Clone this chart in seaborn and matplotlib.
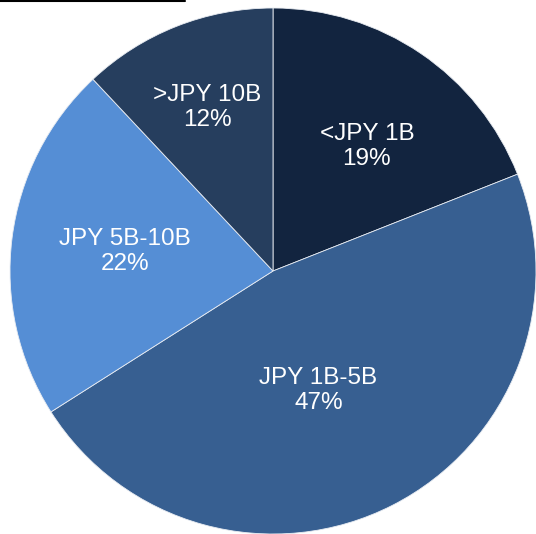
import matplotlib
matplotlib.use("Agg")
import matplotlib.pyplot as plt
import seaborn as sns
from matplotlib.lines import Line2D

# Share of deals by size bracket.
categories = ["<JPY 1B", "JPY 1B-5B", "JPY 5B-10B", ">JPY 10B"]
shares = [19, 47, 22, 12]
colors = ["#12243f", "#375f91", "#558ed5", "#263e5e"]

sns.set_theme(style="white")
plt.rcParams["font.family"] = ["Liberation Sans", "DejaVu Sans"]

fig = plt.figure(figsize=(5.36, 5.34), dpi=100)
ax = fig.add_axes([10 / 536, 0, 526 / 536, 526 / 534])

wedges, texts = ax.pie(
    shares,
    colors=colors,
    startangle=90,
    counterclock=False,
    wedgeprops={"linewidth": 0.6, "edgecolor": "#e8ecf2"},
)

# Label spots inside each wedge (in pie-radius units).
label_xy = [(0.357, 0.472), (0.173, -0.455), (-0.563, 0.073), (-0.251, 0.621)]
for name, val, (x, y) in zip(categories, shares, label_xy):
    ax.text(
        x,
        y,
        f"{name}\n{val}%",
        ha="center",
        va="center",
        color="white",
        fontsize=17.5,
        linespacing=1.19,
    )

ax.set_xlim(-1, 1)
ax.set_ylim(-1, 1)
ax.set_aspect("equal")
ax.axis("off")

# Cropped underline from the title above the chart.
fig.add_artist(Line2D([0, 185 / 536], [1 - 1 / 534, 1 - 1 / 534], color="black", linewidth=1.5))

fig.savefig("out.png", dpi=100)
